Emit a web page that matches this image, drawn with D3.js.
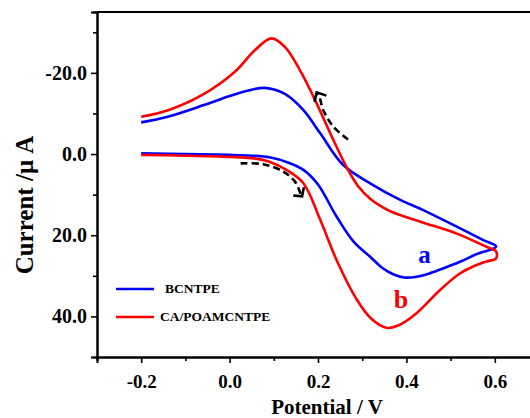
<!DOCTYPE html>
<html>
<head>
<meta charset="utf-8">
<script src="https://cdn.jsdelivr.net/npm/d3@7"></script>
<style>
  body { margin: 0; background: #fff; }
  text { font-family: "Liberation Serif", "Times New Roman", serif; font-weight: bold; }
</style>
</head>
<body>
<div id="chart"></div>
<script>
var svgWidth = 530;
var svgHeight = 418;

// BCNTPE (a) - forward scan
var blueFwdE = [-0.2, -0.1, 0.0, 0.05, 0.09, 0.13, 0.167, 0.2, 0.242, 0.28, 0.318, 0.345, 0.37, 0.395, 0.42, 0.45, 0.48, 0.52, 0.56, 0.603];
var blueFwdI = [-0.2, 0.0, 0.2, 0.4, 0.8, 2.0, 3.9, 7.5, 15.4, 21.5, 25.3, 28.0, 29.6, 30.4, 30.3, 29.5, 28.3, 26.6, 24.6, 22.8];
// BCNTPE (a) - reverse scan
var blueRevE = [0.603, 0.574, 0.514, 0.438, 0.386, 0.318, 0.257, 0.205, 0.167, 0.125, 0.08, 0.04, 0.0, -0.06, -0.14, -0.2];
var blueRevI = [22.8, 21.2, 17.9, 13.8, 11.3, 7.2, 2.7, -5.1, -10.8, -14.8, -16.3, -15.6, -14.3, -12.0, -9.2, -7.8];

// CA/POAMCNTPE (b) - forward scan
var redFwdE = [-0.2, -0.1, 0.0, 0.05, 0.09, 0.13, 0.167, 0.205, 0.242, 0.288, 0.32, 0.355, 0.38, 0.423, 0.476, 0.52, 0.551, 0.58, 0.603];
var redFwdI = [0.2, 0.4, 0.7, 1.0, 1.9, 4.0, 7.2, 16.2, 26.1, 35.9, 40.5, 42.8, 42.3, 39.2, 33.5, 29.5, 27.7, 26.5, 25.7];
// CA/POAMCNTPE (b) - reverse scan
var redRevE = [0.603, 0.58, 0.514, 0.438, 0.39, 0.36, 0.318, 0.29, 0.265, 0.235, 0.19, 0.159, 0.125, 0.095, 0.057, 0.012, -0.063, -0.139, -0.2];
var redRevI = [24.0, 22.8, 19.6, 16.9, 15.2, 13.9, 11.0, 7.8, 3.3, -3.4, -14.1, -20.7, -26.4, -28.5, -25.6, -20.3, -14.5, -10.8, -9.2];

// scan direction arrows (potential, current)
var arrowUpE = [0.268, 0.235, 0.212, 0.203, 0.197];
var arrowUpI = [-3.6, -6.7, -10.8, -14.1, -15.1];
var arrowDownE = [0.025, 0.076, 0.121, 0.148, 0.159, 0.163];
var arrowDownI = [2.3, 2.5, 4.3, 6.8, 9.3, 10.3];

var xTicks = [-0.2, 0.0, 0.2, 0.4, 0.6];
var xMinor = [-0.3, -0.1, 0.1, 0.3, 0.5];
var yTicks = [-20, 0, 20, 40];
var yMinor = [-30, -10, 10, 30];

var seriesNames = ["BCNTPE", "CA/POAMCNTPE"];
var colors = ["#0000ff", "#ff0000"];

var svg = d3.select("#chart")
  .append("svg")
  .attr("width", svgWidth)
  .attr("height", svgHeight);

var xScale = d3.scaleLinear().domain([-0.3, 0.7]).range([97, 539]);
var yScale = d3.scaleLinear().domain([-35, 50]).range([12, 357]);

function pts(es, is) {
  return es.map(function(e, i) { return [e, is[i]]; });
}

var line = d3.line()
  .x(d => xScale(d[0]))
  .y(d => yScale(d[1]))
  .curve(d3.curveCatmullRom);

var fmt = d => d3.format(".1f")(d).replace("\u2212", "-");

// curves
var curves = [
  { p: pts(blueFwdE, blueFwdI).concat(pts(blueRevE, blueRevI).slice(1)), c: colors[0] },
  { p: pts(redFwdE, redFwdI).concat(pts(redRevE, redRevI)), c: colors[1] }
];

svg.selectAll("path.cv")
  .data(curves)
  .enter()
  .append("path")
  .attr("class", "cv")
  .attr("d", d => line(d.p))
  .attr("fill", "none")
  .attr("stroke", d => d.c)
  .attr("stroke-width", 2.6);

// axes
var xAxis = d3.axisBottom(xScale).tickValues(xTicks).tickSize(6).tickFormat(fmt);
var xAxisMinor = d3.axisBottom(xScale).tickValues(xMinor).tickSize(4).tickFormat("");
var yAxis = d3.axisLeft(yScale).tickValues(yTicks).tickSize(6).tickFormat(fmt);
var yAxisMinor = d3.axisLeft(yScale).tickValues(yMinor).tickSize(4).tickFormat("");

var gx = svg.append("g").attr("transform", "translate(0," + yScale(50) + ")").call(xAxis);
svg.append("g").attr("transform", "translate(0," + yScale(50) + ")").call(xAxisMinor);
var gy = svg.append("g").attr("transform", "translate(" + xScale(-0.3) + ",0)").call(yAxis);
svg.append("g").attr("transform", "translate(" + xScale(-0.3) + ",0)").call(yAxisMinor);

svg.selectAll(".domain").attr("stroke", "#000").attr("stroke-width", 2);
svg.selectAll(".tick line").attr("stroke", "#000").attr("stroke-width", 1.6);
gx.selectAll("text").attr("font-size", 19).attr("fill", "#000").attr("dy", "1.15em");
gy.selectAll("text").attr("font-size", 20).attr("fill", "#000").attr("dx", "-0.05em");
svg.selectAll(".tick text").style("font-family", "'Liberation Serif', serif").style("font-weight", "bold");

// top frame line
svg.append("line")
  .attr("x1", xScale(-0.3)).attr("x2", xScale(0.7))
  .attr("y1", yScale(-35)).attr("y2", yScale(-35))
  .attr("stroke", "#000").attr("stroke-width", 2);

// direction arrows
var arrows = [pts(arrowUpE, arrowUpI), pts(arrowDownE, arrowDownI)];
svg.selectAll("path.arrow")
  .data(arrows)
  .enter()
  .append("path")
  .attr("class", "arrow")
  .attr("d", d => line(d))
  .attr("fill", "none")
  .attr("stroke", "#000")
  .attr("stroke-width", 2.6)
  .attr("stroke-dasharray", "7,4");

var heads = [
  [[0.192, -12.9], [0.197, -15.2], [0.219, -14.4]],
  [[0.144, 10.2], [0.164, 10.4], [0.168, 8.2]]
];
svg.selectAll("path.head")
  .data(heads)
  .enter()
  .append("path")
  .attr("class", "head")
  .attr("d", d3.line().x(d => xScale(d[0])).y(d => yScale(d[1])))
  .attr("fill", "none")
  .attr("stroke", "#000")
  .attr("stroke-width", 2.6);

// curve labels
svg.append("text")
  .attr("x", xScale(0.441)).attr("y", yScale(26.8))
  .attr("text-anchor", "middle").attr("font-size", 25)
  .attr("fill", colors[0]).text("a");
svg.append("text")
  .attr("x", xScale(0.388)).attr("y", yScale(37.9))
  .attr("text-anchor", "middle").attr("font-size", 26)
  .attr("fill", colors[1]).text("b");

// legend
var legend = svg.append("g");
legend.selectAll("line")
  .data(seriesNames)
  .enter()
  .append("line")
  .attr("x1", 116).attr("x2", 154)
  .attr("y1", (d, i) => 289 + i * 28)
  .attr("y2", (d, i) => 289 + i * 28)
  .attr("stroke", (d, i) => colors[i])
  .attr("stroke-width", 2.6);
legend.selectAll("text")
  .data(seriesNames)
  .enter()
  .append("text")
  .attr("x", (d, i) => i === 0 ? 165 : 160)
  .attr("y", (d, i) => 293 + i * 28)
  .attr("font-size", 13.5)
  .attr("fill", "#000")
  .text(d => d);

// axis labels
svg.append("text")
  .attr("transform", "translate(33," + 205 + ") rotate(-90)")
  .attr("text-anchor", "middle")
  .attr("font-size", 25)
  .attr("fill", "#000")
  .text("Current /\u03bc A");

svg.append("text")
  .attr("x", 327).attr("y", 414)
  .attr("text-anchor", "middle")
  .attr("font-size", 21)
  .attr("fill", "#000")
  .text("Potential / V");
</script>
</body>
</html>
